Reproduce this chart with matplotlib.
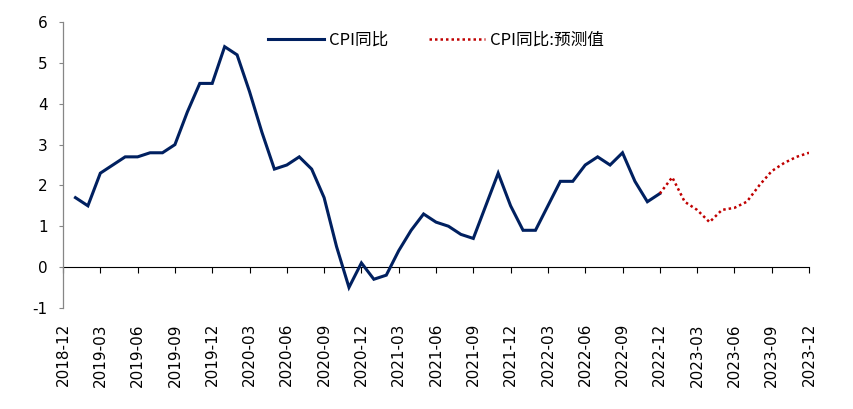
import numpy as np
import matplotlib
matplotlib.use("Agg")
import matplotlib.pyplot as plt

plt.rcParams['font.family'] = ['Noto Sans CJK SC', 'DejaVu Sans']

# monthly CPI yoy, 2019-01 .. 2022-12
cpi = [1.7, 1.5, 2.3, 2.5, 2.7, 2.7, 2.8, 2.8, 3.0, 3.8, 4.5, 4.5,
       5.4, 5.2, 4.3, 3.3, 2.4, 2.5, 2.7, 2.4, 1.7, 0.5, -0.5, 0.1,
       -0.3, -0.2, 0.4, 0.9, 1.3, 1.1, 1.0, 0.8, 0.7, 1.5, 2.3, 1.5,
       0.9, 0.9, 1.5, 2.1, 2.1, 2.5, 2.7, 2.5, 2.8, 2.1, 1.6, 1.8]
# forecast, 2022-12 .. 2023-12
cpi_fc = [1.8, 2.2, 1.6, 1.4, 1.1, 1.4, 1.45, 1.6, 2.0, 2.35, 2.55, 2.7, 2.8]

tick_labels = ['2018-12', '2019-03', '2019-06', '2019-09', '2019-12',
               '2020-03', '2020-06', '2020-09', '2020-12', '2021-03',
               '2021-06', '2021-09', '2021-12', '2022-03', '2022-06',
               '2022-09', '2022-12', '2023-03', '2023-06', '2023-09',
               '2023-12']

x_act = np.arange(1, len(cpi) + 1)
x_fc = np.arange(len(cpi), len(cpi) + len(cpi_fc))
x_ticks = np.arange(0, 3 * len(tick_labels), 3)

fig = plt.figure(figsize=(8.54, 4.09), dpi=100)
ax = fig.add_axes([0.0738, 0.2474, 0.8735, 0.6983])

ax.plot(x_act, cpi, color='#002060', lw=2.2, label='CPI同比', solid_joinstyle='miter')
ax.plot(x_fc, cpi_fc, color='#C00000', lw=1.8, ls=(0, (1, 1.2)), label='CPI同比:预测值')

ax.set_xlim(0, 60)
ax.set_ylim(-1, 6)
ax.set_yticks(range(-1, 7))
ax.set_yticklabels([str(v) for v in range(-1, 7)], family='DejaVu Sans', fontsize=11)
ax.tick_params(axis='y', direction='out', length=3, width=0.8, color='#868686', pad=8)

ax.set_xticks(x_ticks)
ax.set_xticklabels(tick_labels, rotation=90, family='DejaVu Sans', fontsize=11)
ax.tick_params(axis='x', length=0, pad=11)

for s in ['top', 'right', 'bottom']:
    ax.spines[s].set_visible(False)
ax.spines['left'].set_color('#868686')
ax.spines['left'].set_linewidth(0.9)

# zero line with tick marks
sec = ax.secondary_xaxis(1 / 7)
sec.set_xticks(x_ticks)
sec.tick_params(axis='x', direction='out', length=4.5, width=0.8, color='black', labelbottom=False, labeltop=False)
sec.spines['bottom'].set_color('black')
sec.spines['bottom'].set_linewidth(0.8)

ax.legend(loc='center', bbox_to_anchor=(0.5, 0.938), ncol=2, frameon=False,
          fontsize=12, handlelength=3.4, handletextpad=0.3, columnspacing=2.4)

fig.savefig('out.png', dpi=100)
